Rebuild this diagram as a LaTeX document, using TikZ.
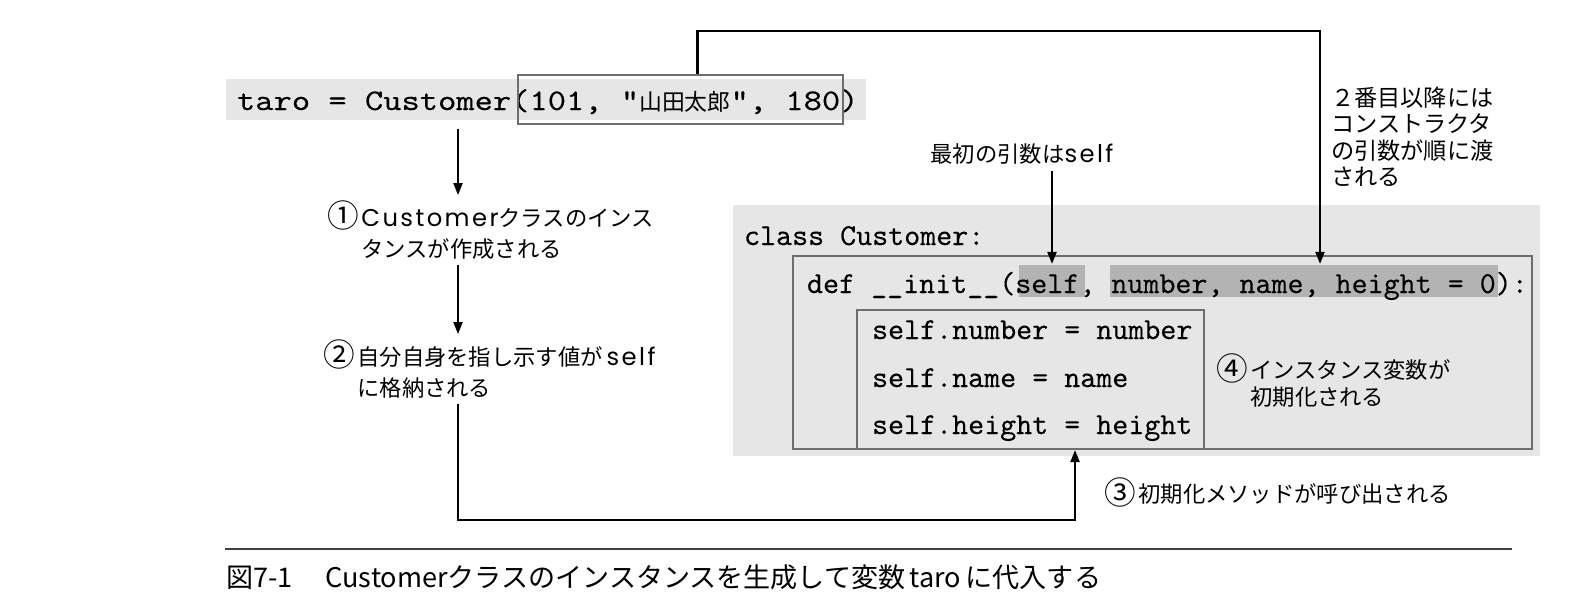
\documentclass[tikz,border=0pt]{standalone}
\usepackage{fontspec}
\setmainfont{Noto Sans CJK JP}
\newfontfamily\jafont{Noto Sans CJK JP}
\newfontfamily\codefont[FakeStretch=1.16,FakeBold=0.15]{lmmono10-regular.otf}
\newfontfamily\codenarrow[FakeBold=0.15]{lmmono10-regular.otf}
\newfontfamily\latfont[LetterSpace=10]{Poppins}
\usetikzlibrary{arrows.meta}

\definecolor{grisfond}{HTML}{E6E6E6}
\definecolor{grisclair}{HTML}{B3B3B3}
\definecolor{griscadre}{HTML}{6E6E6E}

\newcommand{\lat}[1]{{\latfont\fontsize{6.9}{8}\selectfont #1}}
\newcommand{\cnum}[1]{\raisebox{-0.08em}{\fontsize{9}{9}\selectfont #1}\kern0.12em}

\begin{document}
\begin{tikzpicture}[line width=0.6pt,
  fleche/.style={-{Triangle[length=0.12cm,width=0.09cm]}},
  code/.style={font=\codenarrow\fontsize{8.68}{10}\selectfont, inner sep=0pt, anchor=base west},
  note/.style={font=\fontsize{6.35}{8.8}\selectfont, inner sep=0pt, align=left, anchor=base west},
  cadre/.style={draw=griscadre, inner sep=0pt},
  surligne/.style={fill=grisclair, inner sep=0pt}]

\useasboundingbox (0,0) rectangle (15.86,-6.11);

% Appel du constructeur
\fill[grisfond] (2.26,-0.79) rectangle (8.66,-1.20);
\node[code, font=\codefont\fontsize{8.54}{10}\selectfont] (taro) at (2.36,-1.10)
  {taro = Customer(101, "{\jafont\fontsize{6.5}{8}\selectfont 山田太郎}", 180)};
\node[cadre, minimum width=3.25cm, minimum height=0.49cm] (args) at (6.805,-0.995) {};

% Classe
\fill[grisfond] (7.33,-2.05) rectangle (15.40,-4.56);
\node[surligne, minimum width=0.66cm, minimum height=0.32cm] (soi) at (10.52,-2.81) {};
\node[surligne, minimum width=3.88cm, minimum height=0.32cm] (reste) at (13.04,-2.81) {};
\node[cadre, minimum width=7.39cm, minimum height=1.93cm] (defbox) at (11.625,-3.525) {};
\node[cadre, minimum width=3.47cm, minimum height=1.39cm] (corps) at (10.305,-3.795) {};

\node[code] (classe) at (7.43,-2.45) {class Customer:};
\node[code] (init) at (8.06,-2.93) {def \_\_init\_\_(self, number, name, height = 0):};
\node[code] (l1) at (8.71,-3.39) {self.number = number};
\node[code] (l2) at (8.71,-3.87) {self.name = name};
\node[code] (l3) at (8.71,-4.34) {self.height = height};

% Etiquettes
\node[note] (et1) at (3.26,-2.57)
  {\cnum{①}\lat{Customer}クラスのインス\\\hphantom{\cnum{①}}タンスが作成される};
\node[note] (et2) at (3.22,-3.96)
  {\cnum{②}自分自身を指し示す値が\,\lat{self}\\\hphantom{\cnum{②}}に格納される};
\node[note, anchor=west] (et3) at (11.03,-4.92) {\cnum{③}初期化メソッドが呼び出される};
\node[note, font=\fontsize{6.35}{7.5}\selectfont] (et4) at (12.15,-4.05)
  {\cnum{④}インスタンス変数が\\\hphantom{\cnum{④}}初期化される};
\node[note, anchor=base] (premier) at (10.22,-1.62) {最初の引数は\lat{self}};
\node[note, font=\fontsize{6.6}{7.4}\selectfont] (suivants) at (13.30,-1.85)
  {２番目以降には\\コンストラクタ\\の引数が順に渡\\される};

% Fleches
\coordinate (depart) at (4.58,-1.29);
\coordinate (bas) at (10.75,-5.20);
\draw[fleche] (depart) -- ([yshift=0.05cm]depart |- et1.north);
\draw[fleche] ([yshift=-0.05cm]depart |- et1.south) -- ([yshift=0.05cm]depart |- et2.north);
\draw[fleche] ([yshift=-0.05cm]depart |- et2.south) |- (bas) -- (bas |- defbox.south);
\draw[fleche] ([xshift=0.17cm]args.north) -- ++(0,0.43) -| ([xshift=0.16cm]reste.north);
\draw[fleche] ([yshift=-0.06cm]soi.north |- premier.south) -- (soi.north);

% Legende
\draw[black!75, line width=0.5pt] (2.25,-5.49) -- (15.12,-5.49);
\node[anchor=base west, inner sep=0pt, font=\fontsize{7.7}{9}\selectfont] (legende) at (2.25,-5.87)
  {図7-1\hspace{0.33cm}Customerクラスのインスタンスを生成して変数\,taro\,に代入する};

\end{tikzpicture}
\end{document}
